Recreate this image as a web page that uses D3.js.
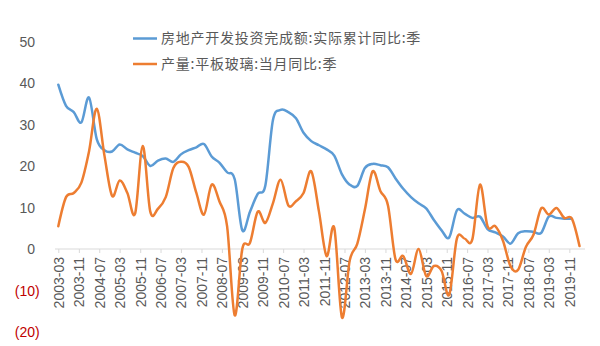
<!DOCTYPE html>
<html><head><meta charset="utf-8">
<script src="https://cdnjs.cloudflare.com/ajax/libs/d3/7.8.5/d3.min.js"></script>
<style>
html,body{margin:0;padding:0;background:#fff;}
svg{display:block;}
</style></head>
<body><svg id="c" width="600" height="346"></svg>
<script>
const dates = ["2003-03","2003-06","2003-09","2003-12","2004-03","2004-06","2004-09","2004-12",
"2005-03","2005-06","2005-09","2005-12","2006-03","2006-06","2006-09","2006-12",
"2007-03","2007-06","2007-09","2007-12","2008-03","2008-06","2008-09","2008-12",
"2009-03","2009-06","2009-09","2009-12","2010-03","2010-06","2010-09","2010-12",
"2011-03","2011-06","2011-09","2011-12","2012-03","2012-06","2012-09","2012-12",
"2013-03","2013-06","2013-09","2013-12","2014-03","2014-06","2014-09","2014-12",
"2015-03","2015-06","2015-09","2015-12","2016-03","2016-06","2016-09","2016-12",
"2017-03","2017-06","2017-09","2017-12","2018-03","2018-06","2018-09","2018-12",
"2019-03","2019-06","2019-09","2019-12","2020-03"];

const investment = [39.6,34.5,33.0,30.5,36.5,26.5,23.8,23.5,
25.2,24.0,23.2,22.4,20.0,21.3,21.8,21.0,
22.8,23.8,24.5,25.3,22.3,20.8,18.5,16.8,
4.5,9.0,13.3,15.3,31.0,33.5,33.0,31.5,
28.0,26.0,25.0,24.0,22.5,18.0,15.5,15.2,
19.5,20.5,20.2,19.7,17.0,14.5,12.5,11.0,
9.8,7.0,4.5,2.8,9.3,8.5,7.5,7.8,
4.8,4.0,3.0,1.3,3.8,4.3,4.1,3.9,
7.8,7.5,7.3,7.3,null];

const glass = [5.5,12.5,13.5,16.0,23.5,33.8,22.5,12.8,
16.5,13.5,8.5,24.8,9.0,9.7,12.5,19.5,
21.0,19.8,13.5,8.3,15.5,11.5,5.5,-16.0,
0.0,1.5,9.0,6.3,11.0,16.7,10.5,11.5,
13.5,18.7,9.0,-1.7,5.1,-16.5,-2.8,1.3,
9.5,18.7,14.0,10.5,-2.5,-1.7,-6.0,0.0,
-6.5,-4.1,-5.3,-11.0,2.5,2.5,2.3,15.5,
5.5,5.5,2.0,-4.2,-5.0,0.5,3.5,9.8,
8.3,9.9,7.5,7.3,0.7];

const xTickLabels = ["2003-03","2003-11","2004-07","2005-03","2005-11","2006-07","2007-03","2007-11",
"2008-07","2009-03","2009-11","2010-07","2011-03","2011-11","2012-07","2013-03","2013-11",
"2014-07","2015-03","2015-11","2016-07","2017-03","2017-11","2018-07","2019-03","2019-11"];
const yTicks = [-20,-10,0,10,20,30,40,50];

const seriesNames = ["房地产开发投资完成额:实际累计同比:季","产量:平板玻璃:当月同比:季"];
const seriesColors = ["#5b9bd5","#ed7d31"];

const parse = d3.timeParse("%Y-%m");
const fmt = d3.timeFormat("%Y-%m");
const svg = d3.select("#c");

const x = d3.scaleTime().domain([parse("2003-03"), parse("2020-03")]).range([58.3, 579.5]);
const y = d3.scaleLinear().domain([-20, 50]).range([332, 41.5]);

// y axis labels
const yAxis = d3.axisLeft(y).tickValues(yTicks).tickSize(0)
  .tickFormat(d => d < 0 ? "(" + (-d) + ")" : String(d));
const ga = svg.append("g").attr("transform","translate(35,0)").call(yAxis);
ga.select(".domain").remove();
ga.selectAll("text")
  .attr("x", d => d < 0 ? 4.7 : 0)
  .attr("dy","0.35em")
  .style("font-family","'Liberation Sans', Arial, sans-serif")
  .style("font-size","14px")
  .attr("fill", d => d < 0 ? "#c00000" : "#595959");

// x axis at zero
const xAxis = d3.axisBottom(x).tickValues(xTickLabels.map(parse)).tickFormat(fmt).tickSize(4).tickSizeOuter(0);
const gx = svg.append("g").attr("transform", `translate(0,${y(0)})`).call(xAxis);
gx.select(".domain").attr("d", `M55,0H585`).attr("stroke","#d9d9d9");
gx.selectAll(".tick line").attr("stroke","#d9d9d9");
gx.selectAll(".tick text")
  .attr("transform","rotate(-90)")
  .attr("text-anchor","end")
  .attr("x",-8).attr("y",0).attr("dy","0.35em")
  .style("font-family","'Liberation Sans', Arial, sans-serif")
  .style("font-size","14px")
  .attr("fill","#595959");

// lines
const pts = (vals) => dates.map((d,i)=>({d:parse(d), v:vals[i]}));
const line = d3.line().defined(p=>p.v!==null).x(p=>x(p.d)).y(p=>y(p.v)).curve(d3.curveCardinal.tension(0));
[investment, glass].forEach((vals,i)=>{
  svg.append("path").datum(pts(vals)).attr("d", line)
    .attr("fill","none").attr("stroke",seriesColors[i]).attr("stroke-width",2.5)
    .attr("stroke-linejoin","round").attr("stroke-linecap","round");
});

// legend
const legY = [38.5, 64];
seriesNames.forEach((n,i)=>{
  svg.append("line").attr("x1",133).attr("x2",157).attr("y1",legY[i]).attr("y2",legY[i])
    .attr("stroke",seriesColors[i]).attr("stroke-width",2.5);
  svg.append("text").attr("x",161).attr("y",legY[i]).attr("dy","0.35em")
    .style("font-family","'Noto Sans CJK SC', sans-serif").style("font-size","14px")
    .style("letter-spacing","0.75px")
    .attr("fill","#595959").text(n);
});
</script></body></html>
